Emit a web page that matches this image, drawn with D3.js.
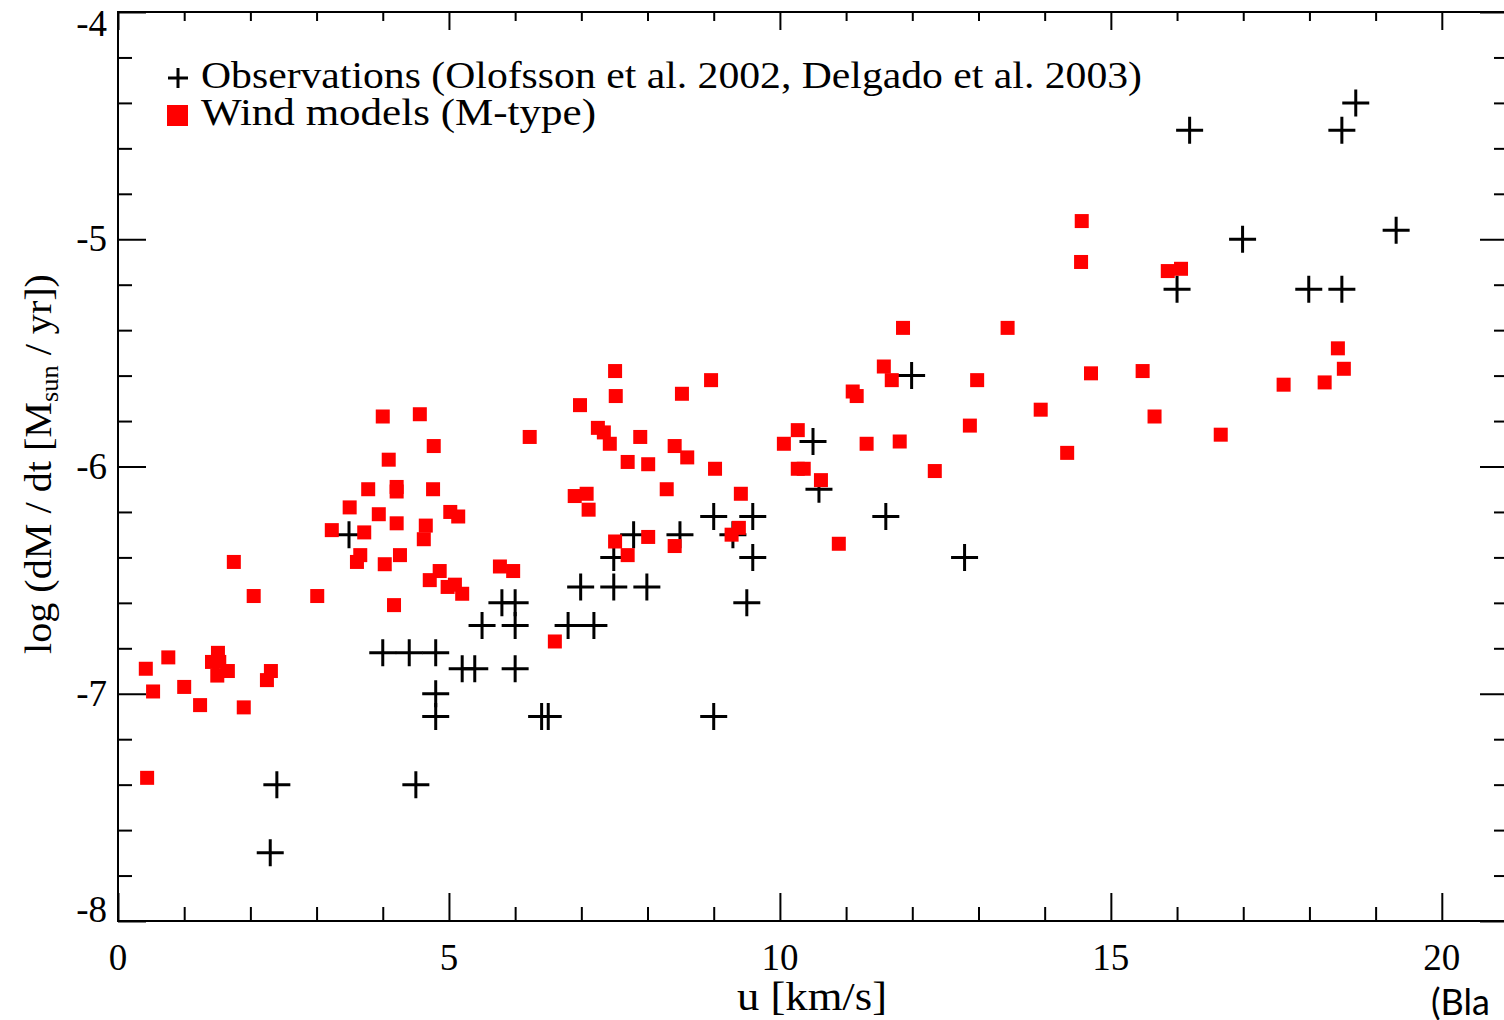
<!DOCTYPE html>
<html><head><meta charset="utf-8">
<script src="https://cdn.jsdelivr.net/npm/d3@7"></script>
<style>
html,body{margin:0;padding:0;background:#fff;overflow:hidden}
svg{display:block}
</style></head>
<body>
<svg id="chart" width="1504" height="1020"></svg>
<script>
// ---- data ----
const xTickValues = [0, 5, 10, 15, 20];
const yTickValues = [-4, -5, -6, -7, -8];
const xTickLabels = ["0", "5", "10", "15", "20"];
const yTickLabels = ["-4", "-5", "-6", "-7", "-8"];

// Wind models (M-type): u [km/s], log dM/dt
const modelU = [
 0.42,0.76,1.51,1.42,1.53,1.50,1.66,2.31,2.25,0.53,1.00,1.24,1.90,0.44,1.75,2.05,3.01,
 4.00,4.56,4.77,4.09,3.78,4.21,4.21,4.76,3.50,3.94,4.21,4.65,4.62,5.02,5.14,3.23,3.72,3.66,3.61,4.03,4.26,4.86,4.71,4.98,5.09,5.20,4.17,5.77,5.97,
 7.51,7.52,6.98,6.22,7.25,7.34,7.43,7.89,8.52,8.96,8.41,8.60,7.70,8.01,8.29,9.41,6.90,7.08,7.11,7.51,8.01,7.70,8.41,9.38,9.27,6.60,10.06,10.27,10.27,10.36,9.02,
 11.86,13.44,11.57,11.69,12.98,11.10,11.16,12.87,13.94,14.70,11.31,11.81,14.34,12.34,10.62,10.89,
 15.86,16.06,15.48,15.66,16.66,17.61,18.23,18.43,18.52,14.56,14.55
];
const modelMdot = [
 -6.89,-6.84,-6.82,-6.86,-6.86,-6.92,-6.90,-6.90,-6.94,-6.99,-6.97,-7.05,-7.06,-7.37,-6.42,-6.57,-6.57,
 -5.78,-5.77,-5.91,-5.97,-6.10,-6.09,-6.11,-6.10,-6.18,-6.21,-6.25,-6.26,-6.32,-6.20,-6.22,-6.28,-6.29,-6.39,-6.42,-6.43,-6.39,-6.46,-6.50,-6.53,-6.52,-6.56,-6.61,-6.44,-6.46,
 -5.58,-5.69,-5.73,-5.87,-5.83,-5.85,-5.90,-5.87,-5.68,-5.62,-5.91,-5.96,-5.98,-5.99,-6.10,-6.12,-6.13,-6.12,-6.19,-6.33,-6.31,-6.39,-6.35,-6.27,-6.30,-6.77,-5.90,-5.84,-6.01,-6.01,-6.01,
 -5.39,-5.39,-5.56,-5.62,-5.62,-5.67,-5.69,-5.82,-5.75,-5.59,-5.90,-5.89,-5.94,-6.02,-6.06,-6.34,
 -5.14,-5.13,-5.58,-5.78,-5.86,-5.64,-5.63,-5.48,-5.57,-4.92,-5.10
];

// Observations (Olofsson et al. 2002, Delgado et al. 2003)
const obsU = [
 18.70,18.49,16.19,16.99,19.31,16.00,17.99,18.49,
 11.99,10.50,10.59,11.60,12.79,
 9.00,9.59,9.29,9.59,9.50,9.00,7.79,8.49,7.49,6.99,7.49,7.99,5.80,6.00,5.50,6.00,6.80,7.19,6.00,6.40,6.50,
 3.49,4.00,4.40,4.80,5.20,5.39,4.80,4.80,2.40,4.50,2.30
];
const obsMdot = [
 -4.40,-4.52,-4.52,-5.00,-4.96,-5.22,-5.22,-5.22,
 -5.60,-5.89,-6.10,-6.22,-6.40,
 -6.22,-6.22,-6.30,-6.40,-6.60,-7.10,-6.30,-6.30,-6.40,-6.53,-6.53,-6.53,-6.60,-6.60,-6.70,-6.70,-6.70,-6.70,-6.89,-7.10,-7.10,
 -6.30,-6.82,-6.82,-6.82,-6.89,-6.89,-7.00,-7.10,-7.40,-7.40,-7.70
];

const legendLabels = ["Observations (Olofsson et al. 2002, Delgado et al. 2003)", "Wind models (M-type)"];
const xTitle = "u [km/s]";
const creditText = "(Bla";

// ---- layout ----
const svg = d3.select("#chart");
const L = 118, T = 12, R = 1508, B = 921;
const x = d3.scaleLinear().domain([0, 21]).range([L, R]);
const y = d3.scaleLinear().domain([-8, -4]).range([B, T]);
const serif = "'Liberation Serif', 'Times New Roman', serif";

// frame
svg.append("rect").attr("x", L).attr("y", T).attr("width", R - L).attr("height", B - T)
  .attr("fill", "none").attr("stroke", "#000").attr("stroke-width", 2);

const xMinor = d3.range(0, 22, 1).filter(v => v % 5 !== 0);
const yMinor = d3.range(-8, -3.99, 0.2).map(v => +v.toFixed(1)).filter(v => Math.abs(v - Math.round(v)) > 1e-6);

function styleAxis(g) {
  g.select(".domain").remove();
  g.selectAll("text").remove();
  g.selectAll("line").attr("stroke", "#000").attr("stroke-width", 2);
}
// bottom
svg.append("g").attr("transform", `translate(0,${B})`).call(d3.axisBottom(x).tickValues(xTickValues).tickSizeInner(-28).tickSizeOuter(0)).call(styleAxis);
svg.append("g").attr("transform", `translate(0,${B})`).call(d3.axisBottom(x).tickValues(xMinor).tickSizeInner(-14).tickSizeOuter(0)).call(styleAxis);
// top
svg.append("g").attr("transform", `translate(0,${T})`).call(d3.axisTop(x).tickValues(xTickValues).tickSizeInner(-18).tickSizeOuter(0)).call(styleAxis);
svg.append("g").attr("transform", `translate(0,${T})`).call(d3.axisTop(x).tickValues(xMinor).tickSizeInner(-9).tickSizeOuter(0)).call(styleAxis);
// left
svg.append("g").attr("transform", `translate(${L},0)`).call(d3.axisLeft(y).tickValues(yTickValues).tickSizeInner(-28).tickSizeOuter(0)).call(styleAxis);
svg.append("g").attr("transform", `translate(${L},0)`).call(d3.axisLeft(y).tickValues(yMinor).tickSizeInner(-14).tickSizeOuter(0)).call(styleAxis);
// right
svg.append("g").attr("transform", `translate(${R},0)`).call(d3.axisRight(y).tickValues(yTickValues).tickSizeInner(-28).tickSizeOuter(0)).call(styleAxis);
svg.append("g").attr("transform", `translate(${R},0)`).call(d3.axisRight(y).tickValues(yMinor).tickSizeInner(-14).tickSizeOuter(0)).call(styleAxis);

// tick labels
svg.append("g").selectAll("text").data(xTickValues).join("text")
  .attr("x", d => x(d)).attr("y", 970).attr("text-anchor", "middle")
  .attr("font-family", serif).attr("font-size", 37).text((d, i) => xTickLabels[i]);
svg.append("g").selectAll("text").data(yTickValues).join("text")
  .attr("x", 107).attr("y", d => Math.min(Math.max(y(d) + 12, 36), 922)).attr("text-anchor", "end")
  .attr("font-family", serif).attr("font-size", 37).text((d, i) => yTickLabels[i]);

// axis titles
svg.append("text").attr("x", 812).attr("y", 1010).attr("text-anchor", "middle")
  .attr("font-family", serif).attr("font-size", 39).attr("textLength", 150).attr("lengthAdjust", "spacingAndGlyphs").text(xTitle);
const yt = svg.append("text").attr("transform", "translate(51,464) rotate(-90)")
  .attr("text-anchor", "middle").attr("font-family", serif).attr("font-size", 38)
  .attr("textLength", 380).attr("lengthAdjust", "spacingAndGlyphs");
yt.append("tspan").text("log (dM / dt [M");
yt.append("tspan").attr("font-size", 25).attr("dy", 7).text("sun");
yt.append("tspan").attr("dy", -7).text(" / yr])");

// credit (cut off at the right edge)
svg.append("text").attr("x", 1431).attr("y", 1015).attr("font-family", "Lato, 'Open Sans', sans-serif")
  .attr("font-size", 36).text(creditText);

// observations: crosses
const crossPath = (cx, cy, h) => `M${cx - h},${cy}H${cx + h}M${cx},${cy - h}V${cy + h}`;
svg.append("g").selectAll("path").data(d3.range(obsU.length)).join("path")
  .attr("d", i => crossPath(x(obsU[i]), y(obsMdot[i]), 13.5))
  .attr("stroke", "#000").attr("stroke-width", 3).attr("fill", "none");

// models: red squares
const s = 14;
svg.append("g").selectAll("rect").data(d3.range(modelU.length)).join("rect")
  .attr("x", i => x(modelU[i]) - s / 2).attr("y", i => y(modelMdot[i]) - s / 2)
  .attr("width", s).attr("height", s).attr("fill", "#ff0000");

// legend
const lg = svg.append("g");
lg.append("path").attr("d", crossPath(178, 78, 10)).attr("stroke", "#000").attr("stroke-width", 3);
lg.append("rect").attr("x", 167).attr("y", 105).attr("width", 21).attr("height", 21).attr("fill", "#ff0000");
lg.append("text").attr("x", 201).attr("y", 88).attr("font-family", serif).attr("font-size", 37)
  .attr("textLength", 941).attr("lengthAdjust", "spacingAndGlyphs").text(legendLabels[0]);
lg.append("text").attr("x", 201).attr("y", 125).attr("font-family", serif).attr("font-size", 37)
  .attr("textLength", 395).attr("lengthAdjust", "spacingAndGlyphs").text(legendLabels[1]);
</script>
</body></html>
